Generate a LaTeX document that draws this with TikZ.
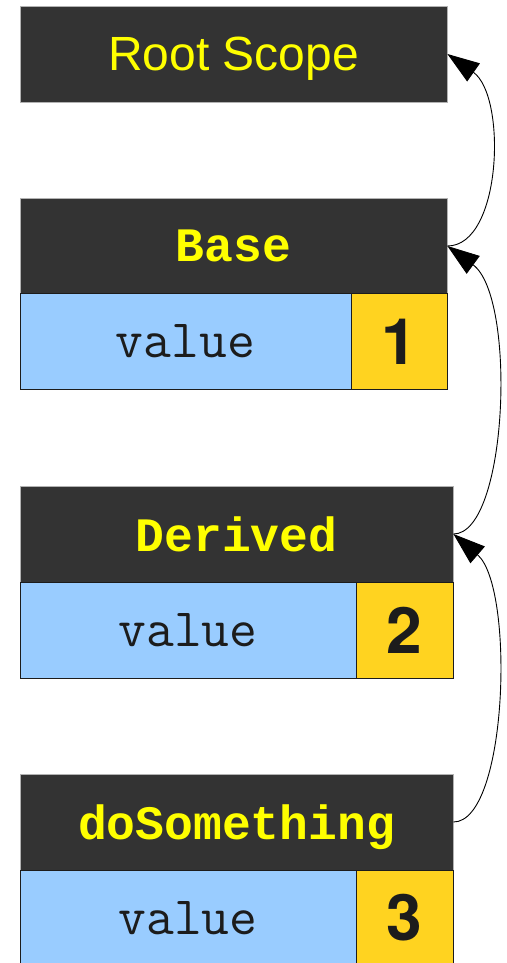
\documentclass[tikz,border=0pt]{standalone}
\usepackage{fontspec}
\setmainfont{Liberation Sans}
\newfontfamily\codefont{Liberation Mono}
\newfontfamily\numfont{TeX Gyre Heros}
\usetikzlibrary{arrows.meta}
\definecolor{hdr}{HTML}{333333}
\definecolor{hdrtxt}{HTML}{FFFF00}
\definecolor{valblue}{HTML}{99CCFF}
\definecolor{numyel}{HTML}{FFD320}
\definecolor{ink}{HTML}{1C1C1C}
\tikzset{
  header/.style={draw=gray!60, line width=0.8pt, fill=hdr, text=hdrtxt, inner sep=0pt, minimum height=96pt, text depth=0pt},
  rootfont/.style={font=\fontsize{48}{56}\selectfont},
  codehdr/.style={font=\codefont\bfseries\fontsize{48}{56}\selectfont},
  valbox/.style={draw=ink, line width=0.8pt, fill=valblue, text=ink, inner sep=0pt, minimum height=96pt, font=\ttfamily\fontsize{54}{60}\selectfont},
  numbox/.style={draw=ink, line width=0.8pt, fill=numyel, text=ink, inner sep=0pt, minimum height=96pt, font=\numfont\bfseries\fontsize{64}{72}\selectfont},
  link/.style={draw=black, line width=0.9pt, -{Triangle[length=32pt,width=22pt]}}
}
\begin{document}
\begin{tikzpicture}[x=1pt,y=-1pt]
\useasboundingbox (0,0) rectangle (506,963);
% Root
\node[header, rootfont, minimum width=427pt] (root) at (233.5,54) {Root Scope};
% Base
\node[header, codehdr, minimum width=427pt] (base) at (233.5,246) {Base};
\node[valbox, minimum width=331pt] (basev) at (185.5,341.5) {value};
\node[numbox, minimum width=96pt] (basen) at (399,341.5) {1};
% Derived
\node[header, codehdr, minimum width=433pt] (der) at (236.5,534) {Derived};
\node[valbox, minimum width=336pt] (derv) at (188,630) {value};
\node[numbox, minimum width=97pt] (dern) at (404.5,630) {2};
% doSomething
\node[header, codehdr, minimum width=433pt] (dos) at (236.5,822) {doSomething};
\node[valbox, minimum width=336pt] (dosv) at (188,918) {value};
\node[numbox, minimum width=97pt] (dosn) at (404.5,918) {3};
% links
\draw[link] (base.east) .. controls (502,246) and (507,96) .. (root.east);
\draw[link] (der.east) .. controls (508,534) and (517,297) .. (base.east);
\draw[link] (dos.east) .. controls (508,822) and (515,587) .. (der.east);
\end{tikzpicture}
\end{document}
